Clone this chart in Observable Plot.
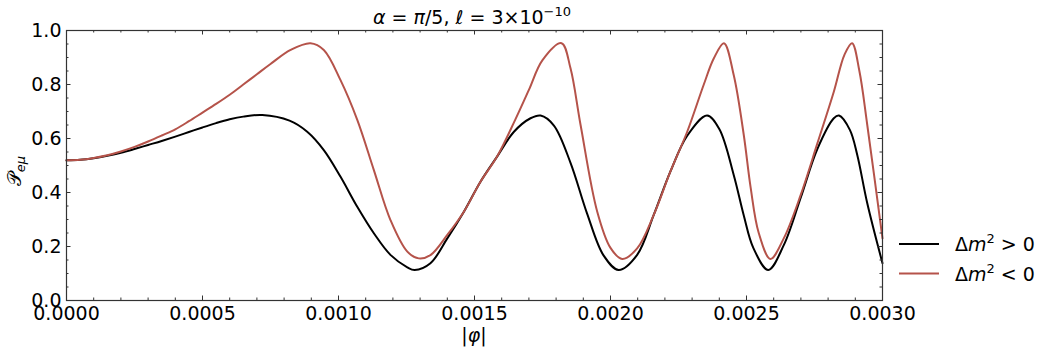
<!DOCTYPE html>
<html><head><meta charset="utf-8">
<script src="https://cdn.jsdelivr.net/npm/d3@7"></script>
<script src="https://cdn.jsdelivr.net/npm/@observablehq/plot@0.6"></script>
<style>body{margin:0;background:#fff;overflow:hidden;}</style>
</head><body><div id="chart"></div>
<script>
// ---- data ----
const phiBlack = [0, 0.00005, 0.0001, 0.00015, 0.0002, 0.00025, 0.0003, 0.00035, 0.0004, 0.00045, 0.0005, 0.00055, 0.0006, 0.00065, 0.00072, 0.00082, 0.000885, 0.000946, 0.001007, 0.001069, 0.00113, 0.001191, 0.001253, 0.00128, 0.001338, 0.0014, 0.001461, 0.001522, 0.001583, 0.001645, 0.001706, 0.001743, 0.001792, 0.001853, 0.001914, 0.001975, 0.00203, 0.002098, 0.002159, 0.00222, 0.002282, 0.002355, 0.0024, 0.002453, 0.00249, 0.002525, 0.00258, 0.002637, 0.002699, 0.00276, 0.002821, 0.00284, 0.00288, 0.002907, 0.002944, 0.003];
const pBlack = [0.519, 0.521, 0.527, 0.536, 0.547, 0.561, 0.576, 0.591, 0.607, 0.624, 0.641, 0.657, 0.671, 0.681, 0.687, 0.666, 0.625, 0.557, 0.459, 0.347, 0.249, 0.169, 0.123, 0.113, 0.138, 0.23, 0.329, 0.44, 0.533, 0.625, 0.675, 0.685, 0.648, 0.51, 0.322, 0.166, 0.113, 0.169, 0.317, 0.477, 0.61, 0.685, 0.635, 0.465, 0.315, 0.195, 0.113, 0.205, 0.38, 0.56, 0.675, 0.685, 0.632, 0.54, 0.36, 0.138];

const phiRed = [0, 0.00005, 0.0001, 0.00015, 0.0002, 0.00025, 0.0003, 0.00035, 0.0004, 0.00045, 0.0005, 0.00055, 0.0006, 0.00065, 0.0007, 0.00075, 0.000824, 0.000897, 0.000946, 0.001007, 0.001069, 0.00113, 0.001191, 0.001253, 0.001295, 0.001338, 0.0014, 0.001461, 0.001522, 0.001583, 0.00165, 0.0017, 0.00175, 0.00182, 0.001853, 0.00189, 0.001951, 0.002, 0.002043, 0.002098, 0.002159, 0.00222, 0.002282, 0.002343, 0.00238, 0.002417, 0.002453, 0.00249, 0.002515, 0.002545, 0.002588, 0.002637, 0.002699, 0.00276, 0.002821, 0.00286, 0.002888, 0.002915, 0.002944, 0.003];
const pRed = [0.519, 0.521, 0.528, 0.538, 0.552, 0.569, 0.589, 0.611, 0.634, 0.664, 0.696, 0.728, 0.762, 0.80, 0.838, 0.876, 0.928, 0.953, 0.928, 0.817, 0.669, 0.483, 0.298, 0.181, 0.156, 0.168, 0.243, 0.329, 0.44, 0.533, 0.67, 0.78, 0.89, 0.953, 0.86, 0.65, 0.33, 0.195, 0.154, 0.193, 0.317, 0.477, 0.625, 0.80, 0.897, 0.953, 0.835, 0.613, 0.42, 0.25, 0.154, 0.23, 0.39, 0.58, 0.773, 0.91, 0.953, 0.85, 0.65, 0.23];

const xTicks = [0, 0.0005, 0.001, 0.0015, 0.002, 0.0025, 0.003];
const xTickLabels = ["0.0000", "0.0005", "0.0010", "0.0015", "0.0020", "0.0025", "0.0030"];
const yTicks = [0, 0.2, 0.4, 0.6, 0.8, 1.0];
const yTickLabels = ["0.0", "0.2", "0.4", "0.6", "0.8", "1.0"];
const xMinor = d3.range(0, 31).map(i => i * 0.0001);
const yMinor = d3.range(0, 21).map(i => i * 0.05);

const seriesNames = ["Δm² > 0", "Δm² < 0"];
const seriesColors = ["#000000", "#b5534a"];

// ---- layout ----
const W = 1049, H = 355;
const mL = 66, mR = 167, mT = 30, mB = 55;
const PW = W - mL - mR, PH = H - mT - mB;
const FONT = "DejaVu Sans";
const MAJ = 4.5, MIN = 2.5;

const blackData = phiBlack.map((x, i) => ({x, y: pBlack[i]}));
const redData = phiRed.map((x, i) => ({x, y: pRed[i]}));

const chart = Plot.plot({
  width: W, height: H,
  marginLeft: mL, marginRight: mR, marginTop: mT, marginBottom: mB,
  x: {domain: [0, 0.003], label: null},
  y: {domain: [0, 1], label: null},
  style: {fontFamily: FONT, fontSize: "19px", color: "#000", background: "#fff"},
  marks: [
    Plot.line(blackData, {x: "x", y: "y", stroke: seriesColors[0], strokeWidth: 2, curve: "catmull-rom"}),
    Plot.line(redData, {x: "x", y: "y", stroke: seriesColors[1], strokeWidth: 2, curve: "catmull-rom"}),
    // inward ticks, all four sides
    Plot.tickX(xMinor, {x: d => d, stroke: "#333", insetTop: PH - MIN}),
    Plot.tickX(xMinor, {x: d => d, stroke: "#333", insetBottom: PH - MIN}),
    Plot.tickX(xTicks, {x: d => d, stroke: "#333", insetTop: PH - MAJ}),
    Plot.tickX(xTicks, {x: d => d, stroke: "#333", insetBottom: PH - MAJ}),
    Plot.tickY(yMinor, {y: d => d, stroke: "#333", insetRight: PW - MIN}),
    Plot.tickY(yMinor, {y: d => d, stroke: "#333", insetLeft: PW - MIN}),
    Plot.tickY(yTicks, {y: d => d, stroke: "#333", insetRight: PW - MAJ}),
    Plot.tickY(yTicks, {y: d => d, stroke: "#333", insetLeft: PW - MAJ}),
    Plot.axisX(xTicks, {anchor: "bottom", tickSize: 0, tickPadding: 6, tickFormat: (d, i) => xTickLabels[i], fontSize: 19, label: null}),
    Plot.axisY(yTicks, {anchor: "left", tickSize: 0, tickPadding: 5, tickFormat: (d, i) => yTickLabels[i], fontSize: 19, label: null}),
    Plot.frame({stroke: "#333", strokeWidth: 1.2})
  ]
});
document.getElementById("chart").appendChild(chart);

// ---- text overlays: title, axis labels, legend ----
const svg = d3.select(chart);
const g = svg.append("g").attr("font-family", FONT).attr("fill", "#000").attr("font-size", 19);

const title = g.append("text").attr("x", mL + PW / 2 - 2).attr("y", 24).attr("text-anchor", "middle");
title.append("tspan").attr("font-style", "italic").text("α");
title.append("tspan").text(" = ");
title.append("tspan").attr("font-style", "italic").text("π");
title.append("tspan").text("/5, ");
title.append("tspan").attr("font-style", "italic").text("ℓ");
title.append("tspan").text(" = 3×10");
title.append("tspan").attr("font-size", 13).attr("dy", -8).text("−10");

const xl = g.append("text").attr("x", mL + PW / 2).attr("y", 342).attr("text-anchor", "middle");
xl.append("tspan").text("|");
xl.append("tspan").attr("font-style", "italic").text("φ");
xl.append("tspan").text("|");

const yl = g.append("text").attr("transform", `translate(21,${mT + PH / 2 + 6}) rotate(-90)`).attr("text-anchor", "middle");
yl.append("tspan").text("𝒫");
yl.append("tspan").attr("font-size", 13).attr("font-style", "italic").attr("dy", 4).text("eμ");

const leg = g.append("g");
seriesNames.forEach((name, i) => {
  const yy = 244 + i * 29.5;
  leg.append("line").attr("x1", 899).attr("x2", 939).attr("y1", yy).attr("y2", yy)
    .attr("stroke", seriesColors[i]).attr("stroke-width", 2);
  const t = leg.append("text").attr("x", 955).attr("y", yy + 7).attr("text-anchor", "start");
  t.append("tspan").text("Δ");
  t.append("tspan").attr("font-style", "italic").text("m");
  t.append("tspan").attr("font-size", 13).attr("dy", -8).text("2");
  t.append("tspan").attr("dy", 8).text(name.slice(3));
});
</script></body></html>
